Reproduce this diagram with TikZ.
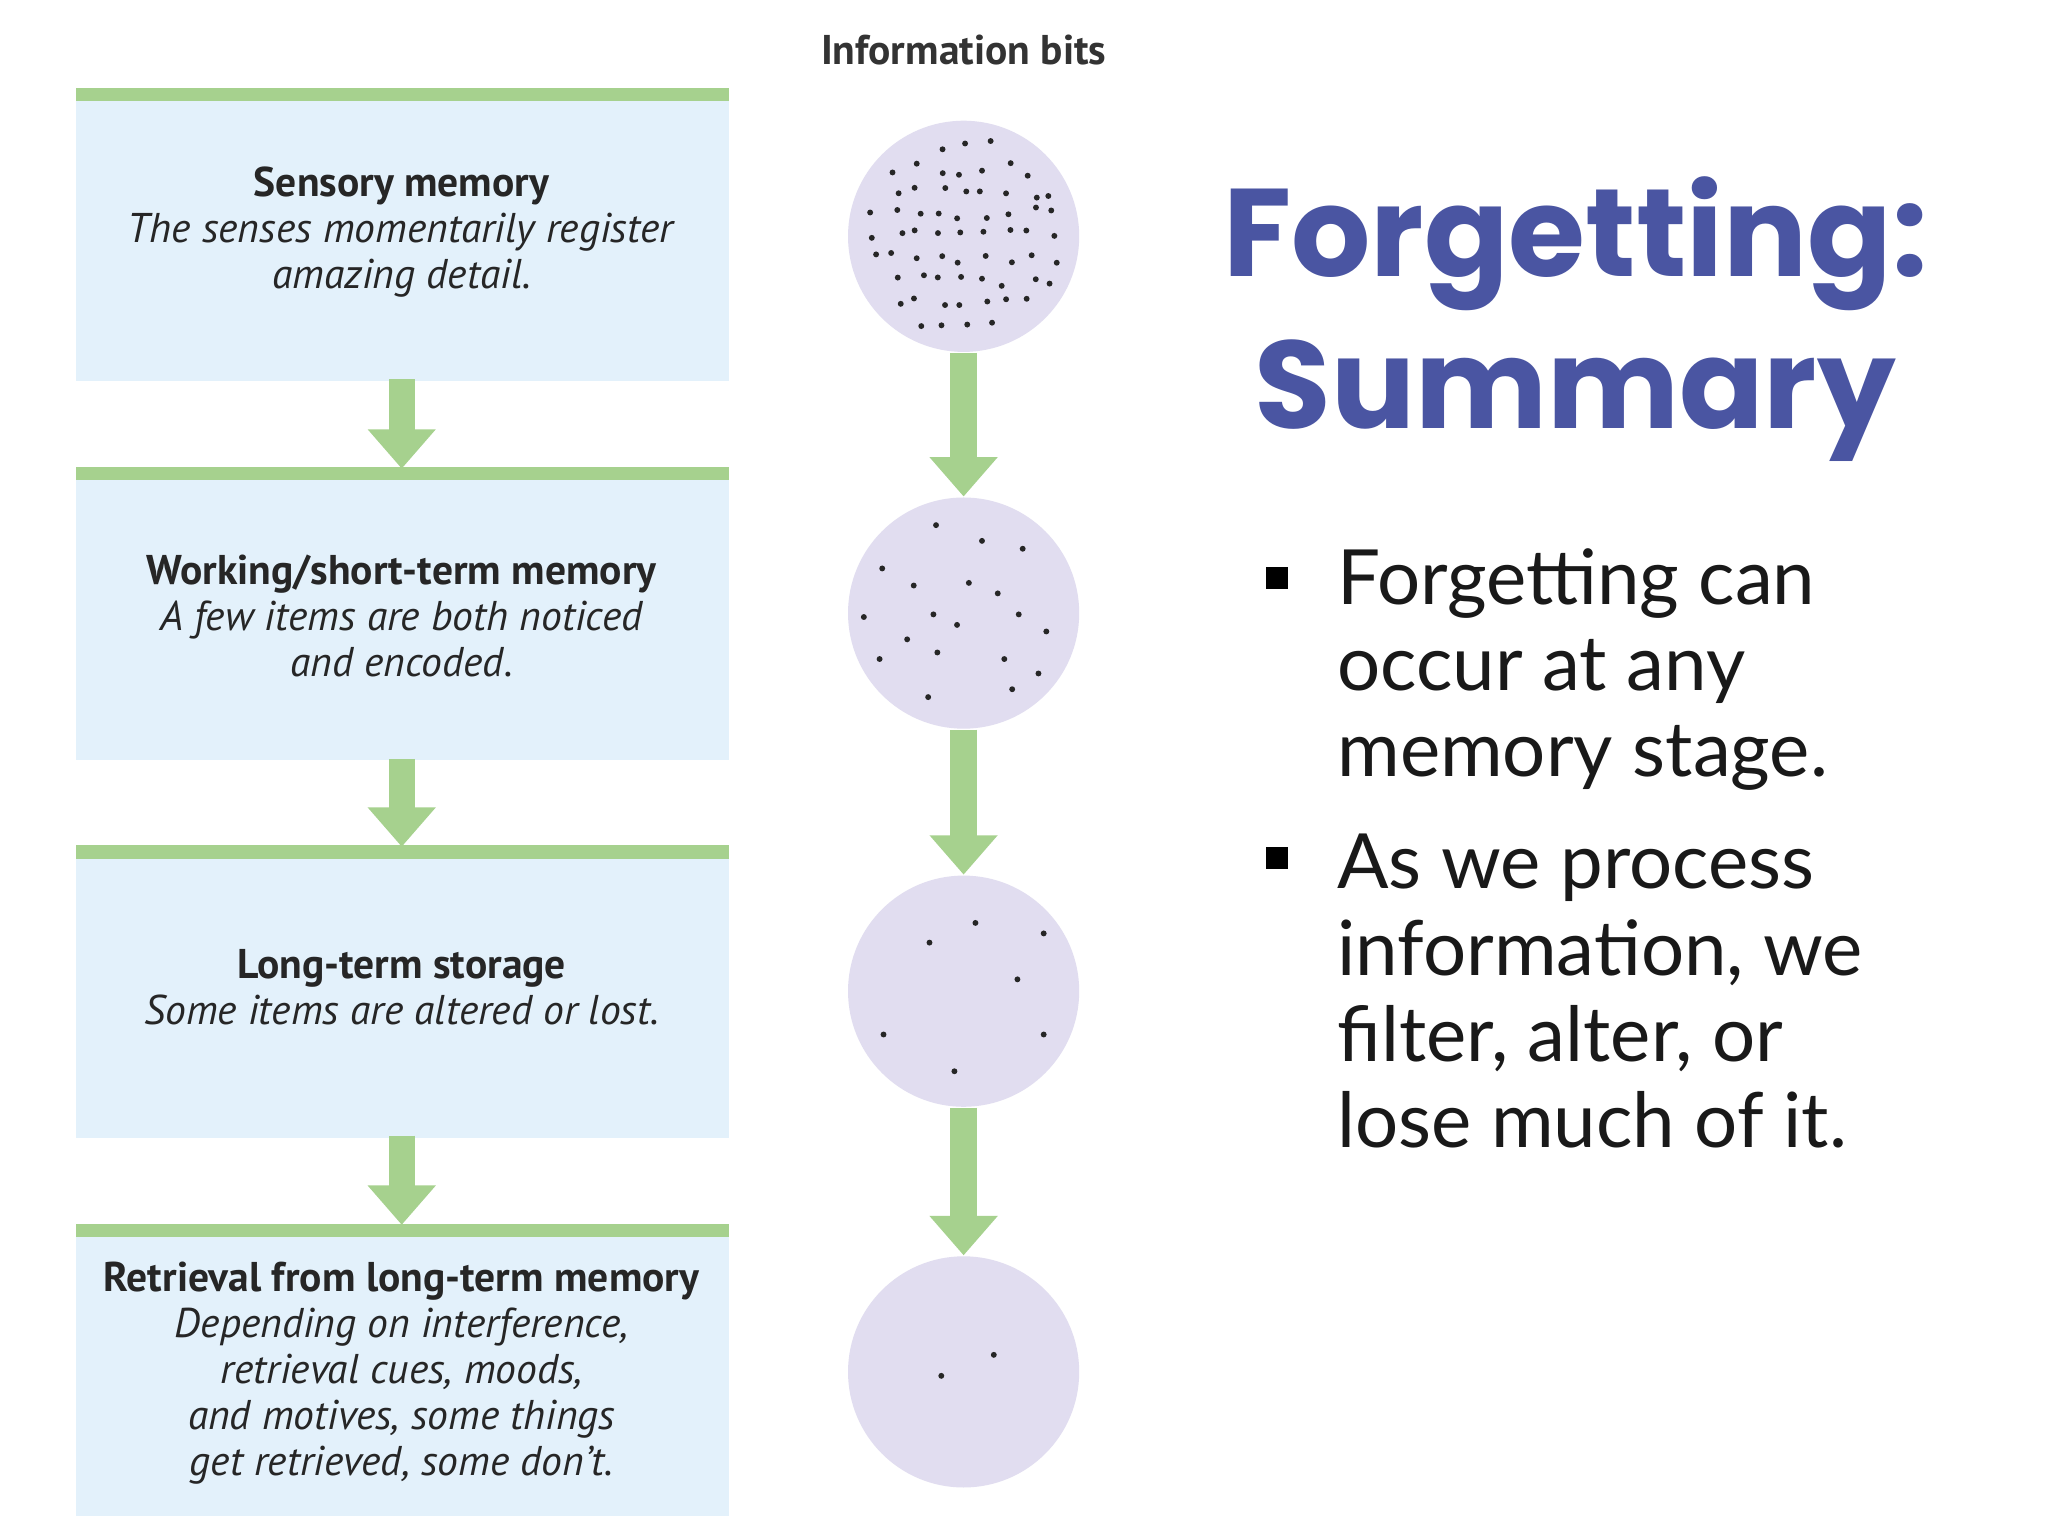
\documentclass[tikz,border=0pt]{standalone}
\usetikzlibrary{arrows.meta,calc}
\usepackage{fontspec}
\setmainfont{PT Sans}
\newfontfamily\titlefont{Poppins}
\newfontfamily\bodyfont{Lato}
\definecolor{boxblue}{HTML}{E3F1FB}
\definecolor{lgreen}{HTML}{A6D18E}
\definecolor{lav}{HTML}{E1DDF0}
\definecolor{titleblue}{HTML}{4A55A2}
\begin{document}
\begin{tikzpicture}[x=0.01cm,y=-0.01cm,
  stage/.style={fill=boxblue,draw=none},
  topline/.style={lgreen,line width=0.1cm},
  garrow/.style={-{Triangle[length=0.3cm,width=0.5cm]},lgreen,line width=0.2cm},
  bits/.style={circle,fill=lav,minimum size=1.76cm,inner sep=0},
  dot/.style={circle,fill=black!85,minimum size=0.045cm,inner sep=0},
  stxt/.style={align=center,font=\fontsize{9}{10}\selectfont,text=black!85},
  bul/.style={anchor=west,inner sep=0,align=left,font=\bodyfont\fontsize{16.5}{18.7}\selectfont,text=black!90}]
\useasboundingbox (0,0) rectangle (1560,1170);
\fill[white] (0,0) rectangle (1560,1170);
% boxes
\foreach \t/\n in {68/1,357/2,645/3,933/4}{
  \path[stage] (58,\t) rectangle (555,\t+222);
  \draw[topline] (58,\t+4) -- (555,\t+4);
}
\node[stxt] (s1) at (306,177) {\textbf{Sensory memory}\\\textit{The senses momentarily register}\\\textit{amazing detail.}};
\node[stxt] (s2) at (306,469) {\textbf{Working/short-term memory}\\\textit{A few items are both noticed}\\\textit{and encoded.}};
\node[stxt] (s3) at (306,752) {\textbf{Long-term storage}\\\textit{Some items are altered or lost.}};
\node[stxt] (s4) at (306,1046) {\textbf{Retrieval from long-term memory}\\\textit{Depending on interference,}\\\textit{retrieval cues, moods,}\\\textit{and motives, some things}\\\textit{get retrieved, some don't.}};
\coordinate (a1) at (306,289); \coordinate (b1) at (306,357);
\coordinate (a2) at (306,578); \coordinate (b2) at (306,645);
\coordinate (a3) at (306,865); \coordinate (b3) at (306,933);
\draw[garrow] (a1) -- (b1);
\draw[garrow] (a2) -- (b2);
\draw[garrow] (a3) -- (b3);
% circles
\node[font=\bfseries\fontsize{9}{10}\selectfont,text=black!80] (ib) at (734,38) {Information bits};
\node[bits] (c1) at (734,180) {};
\node[bits] (c2) at (734,467) {};
\node[bits] (c3) at (734,755) {};
\node[bits] (c4) at (734,1045) {};
\draw[garrow] (c1) -- (c2);
\draw[garrow] (c2) -- (c3);
\draw[garrow] (c3) -- (c4);
\pgfmathsetseed{11}
\foreach \gx in {-4,...,4}{\foreach \gy in {-4,...,4}{
  \pgfmathsetmacro\dx{\gx*17+10*(rnd-0.5)}
  \pgfmathsetmacro\dy{\gy*17+10*(rnd-0.5)}
  \pgfmathsetmacro\ok{(\dx*\dx+\dy*\dy<76*76)?1:0}
  \ifnum\ok=1 \node[dot] at ($(c1)+(\dx*0.01cm,-\dy*0.01cm)$) {};\fi
}}
\foreach \p in {(713,400),(748,412),(779,418),(672,433),(696,446),(738,444),(760,452),(711,468),(658,470),(729,476),(776,468),(797,481),(691,487),(670,502),(714,497),(765,502),(791,513),(707,531),(771,525)}
  \node[dot] at \p {};
\foreach \p in {(708,718),(743,703),(795,711),(775,746),(673,788),(795,788),(727,816)}
  \node[dot] at \p {};
\foreach \p in {(717,1048),(757,1032)} \node[dot] at \p {};
% title
\node[font=\titlefont\bfseries\fontsize{27}{33}\selectfont,text=titleblue,align=center] (t) at (1200,243) {Forgetting:\\Summary};
\node[bul] (l1) at (1018,510) {Forgetting can\\occur at any\\memory stage.};
\node[bul] (l2) at (1018,755) {As we process\\information, we\\filter, alter, or\\lose much of it.};
\fill[black] (964,432) rectangle (981,449);
\fill[black] (964,645) rectangle (981,662);
\end{tikzpicture}
\end{document}
